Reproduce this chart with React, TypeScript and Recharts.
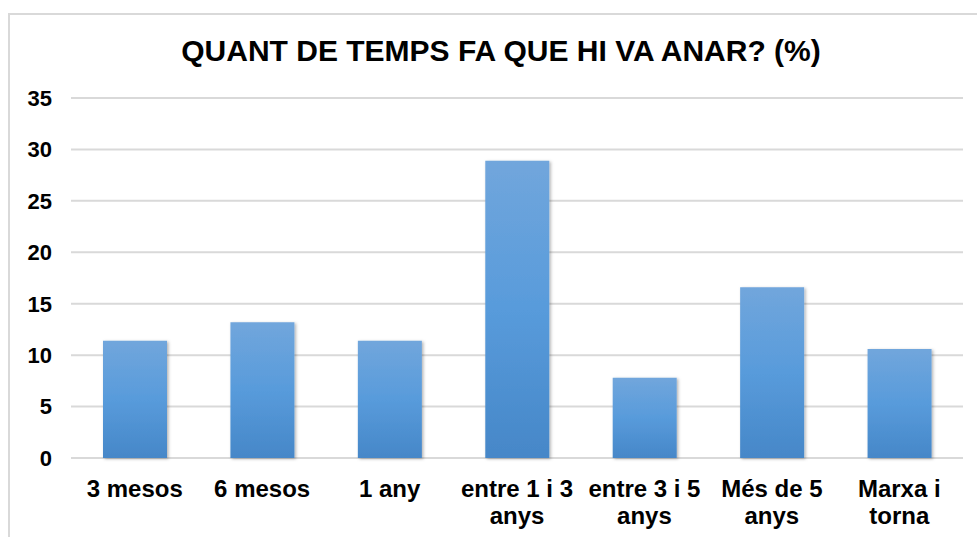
import { BarChart, Bar, XAxis, YAxis, CartesianGrid } from "recharts";

const categories = [
  "3 mesos",
  "6 mesos",
  "1 any",
  "entre 1 i 3 anys",
  "entre 3 i 5 anys",
  "Més de 5 anys",
  "Marxa i torna",
];
const values = [11.4, 13.2, 11.4, 28.9, 7.8, 16.6, 10.6];
const yTicks = [0, 5, 10, 15, 20, 25, 30, 35];
const title = "QUANT DE TEMPS FA QUE HI VA ANAR? (%)";

const data = categories.map((name, i) => ({ name, value: values[i] }));

const FONT = '"Liberation Sans", Arial, sans-serif';
const X_FONT_SIZE = 24;

let ctx: CanvasRenderingContext2D | null = null;
const measure = (s: string) => {
  if (!ctx) {
    ctx = document.createElement("canvas").getContext("2d");
  }
  if (!ctx) return s.length * X_FONT_SIZE * 0.55;
  ctx.font = `bold ${X_FONT_SIZE}px ${FONT}`;
  return ctx.measureText(s).width;
};

// greedy word wrap to fit one category band
const wrap = (label: string, maxWidth: number) => {
  const words = label.split(" ");
  const lines: string[] = [];
  let cur = "";
  words.forEach((w) => {
    const next = cur ? cur + " " + w : w;
    if (cur && measure(next) > maxWidth) {
      lines.push(cur);
      cur = w;
    } else {
      cur = next;
    }
  });
  if (cur) lines.push(cur);
  return lines;
};

const XTick = (props: any) => {
  const { x, y, payload } = props;
  const lines = wrap(String(payload.value), 124);
  return (
    <text
      x={x}
      y={y}
      textAnchor="middle"
      fontSize={X_FONT_SIZE}
      fontWeight="bold"
      fontFamily={FONT}
      fill="#000"
    >
      {lines.map((l, i) => (
        <tspan key={i} x={x} dy={i === 0 ? 17 : 27}>
          {l}
        </tspan>
      ))}
    </text>
  );
};

const App = () => {
  return (
    <div
      style={{
        position: "fixed",
        left: 0,
        top: 0,
        width: 977,
        height: 537,
        overflow: "hidden",
        background: "#fff",
      }}
    >
      <div
        style={{
          position: "absolute",
          left: 8,
          top: 13,
          width: 1000,
          height: 600,
          border: "2px solid #d9d9d9",
        }}
      />
      <div
        style={{
          position: "absolute",
          left: 0,
          top: 36,
          width: 1002,
          textAlign: "center",
          fontFamily: FONT,
          fontWeight: "bold",
          fontSize: 30,
          lineHeight: "30px",
          color: "#000",
          whiteSpace: "nowrap",
        }}
      >
        {title}
      </div>
      <div style={{ position: "absolute", left: 0, top: 0 }}>
        <BarChart
          width={977}
          height={537}
          data={data}
          margin={{ top: 98, right: 14, bottom: 0, left: 0 }}
        >
          <defs>
            <linearGradient id="barFill" x1="0" y1="0" x2="0" y2="1">
              <stop offset="0%" stopColor="#71a6dc" />
              <stop offset="50%" stopColor="#589bdb" />
              <stop offset="100%" stopColor="#4687c8" />
            </linearGradient>
            <filter id="barShadow" x="-20%" y="-10%" width="140%" height="120%">
              <feDropShadow dx="1.5" dy="1" stdDeviation="1.5" floodColor="#000" floodOpacity="0.3" />
            </filter>
          </defs>
          <CartesianGrid vertical={false} stroke="#d9d9d9" strokeWidth={2} />
          <XAxis
            dataKey="name"
            axisLine={false}
            tickLine={false}
            tickSize={0}
            tickMargin={22}
            height={79}
            interval={0}
            tick={<XTick />}
          />
          <YAxis
            domain={[0, 35]}
            ticks={yTicks}
            axisLine={false}
            tickLine={false}
            tickSize={0}
            tickMargin={19}
            width={71}
            tick={{ fontSize: 22, fontWeight: "bold", fill: "#000", fontFamily: FONT }}
          />
          <Bar
            dataKey="value"
            barSize={64}
            fill="url(#barFill)"
            filter="url(#barShadow)"
            isAnimationActive={false}
          />
        </BarChart>
      </div>
    </div>
  );
};

export default App;
